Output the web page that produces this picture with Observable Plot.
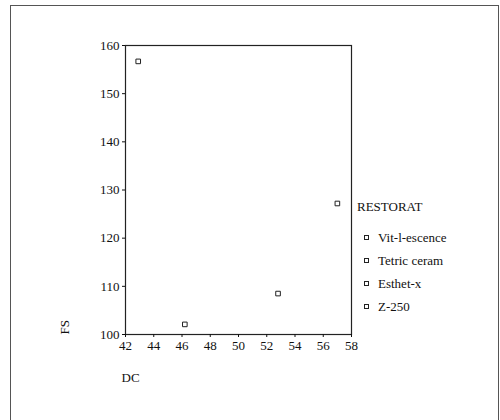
<!DOCTYPE html>
<html>
<head>
<meta charset="utf-8">
<script src="https://cdn.jsdelivr.net/npm/d3@7"></script>
<script src="https://cdn.jsdelivr.net/npm/@observablehq/plot@0.6"></script>
<style>
  html, body { margin: 0; padding: 0; background: #fff; }
  #wrap { position: relative; width: 500px; height: 420px; overflow: hidden; font-family: "Liberation Serif", "DejaVu Serif", serif; color: #111; }
  #outer { position: absolute; left: 10px; top: 5px; width: 487px; height: 430px; border-left: 1px solid #555; border-top: 1px solid #555; border-right: 1px solid #555; }
  #chart { position: absolute; left: 0; top: 0; }
  #legend { position: absolute; left: 357px; top: 199px; font-size: 13px; }
  #legend .title { margin-bottom: 11px; }
  #legend .item { display: flex; align-items: center; height: 23px; }
  #legend .sym { width: 3px; height: 3px; border: 1px solid #222; margin-left: 7px; margin-right: 9px; }
</style>
</head>
<body>
<div id="wrap">
  <div id="outer"></div>
  <div id="chart"></div>
  <div id="legend"></div>
</div>
<script>
const restorations = ["Vit-l-escence", "Tetric ceram", "Esthet-x", "Z-250"];
const dcValues = [42.9, 57.0, 52.8, 46.2];
const fsValues = [156.7, 127.2, 108.5, 102.1];
const xTicks = [42, 44, 46, 48, 50, 52, 54, 56, 58];
const yTicks = [100, 110, 120, 130, 140, 150, 160];
const legendTitle = "RESTORAT";
const xLabel = "DC";
const yLabel = "FS";

const data = restorations.map((r, i) => ({restorat: r, dc: dcValues[i], fs: fsValues[i]}));

const chart = Plot.plot({
  width: 500,
  height: 420,
  marginLeft: 125,
  marginRight: 149,
  marginTop: 45,
  marginBottom: 86,
  style: {fontFamily: "'Liberation Serif', 'DejaVu Serif', serif", fontSize: "13px", color: "#111", background: "transparent"},
  x: {domain: [42, 58], ticks: xTicks, label: null},
  y: {domain: [100, 160], ticks: yTicks, label: null},
  marks: [
    Plot.frame({stroke: "#222", strokeWidth: 1.2}),
    Plot.axisX({ticks: xTicks, tickSize: 3, tickPadding: 3, label: null, tickFormat: d => String(d)}),
    Plot.axisY({ticks: yTicks, tickSize: 3, tickPadding: 3, label: null, tickFormat: d => String(d)}),
    Plot.dot(data, {x: "dc", y: "fs", symbol: "square", r: 2.6, stroke: "#222", strokeWidth: 1, fill: "none"}),
    Plot.text([yLabel], {frameAnchor: "bottom-left", dx: -57, rotate: -90, textAnchor: "start", fontSize: 13}),
    Plot.text([xLabel], {frameAnchor: "bottom-left", dy: 47, dx: -4, textAnchor: "start", fontSize: 13})
  ]
});
document.getElementById("chart").appendChild(chart);

const legend = document.getElementById("legend");
const t = document.createElement("div");
t.className = "title";
t.textContent = legendTitle;
legend.appendChild(t);
restorations.forEach(r => {
  const it = document.createElement("div");
  it.className = "item";
  const s = document.createElement("span");
  s.className = "sym";
  const l = document.createElement("span");
  l.textContent = r;
  it.appendChild(s);
  it.appendChild(l);
  legend.appendChild(it);
});
</script>
</body>
</html>
